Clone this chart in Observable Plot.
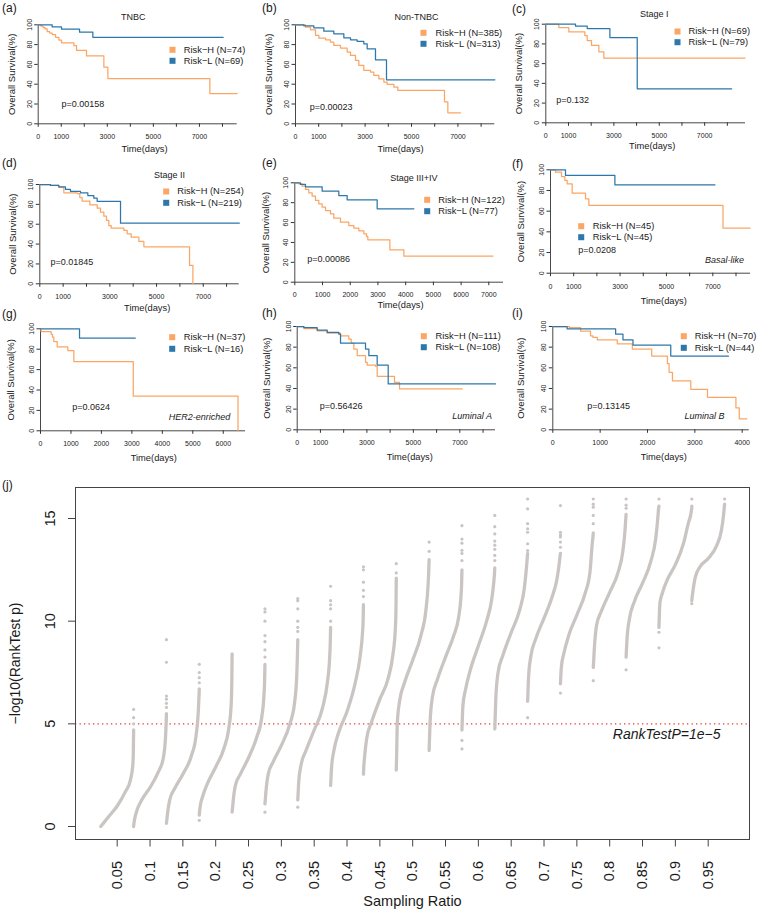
<!DOCTYPE html>
<html><head><meta charset="utf-8">
<script src="https://cdn.jsdelivr.net/npm/d3@7"></script>
<script src="https://cdn.jsdelivr.net/npm/@observablehq/plot@0.6"></script>
<style>
body{margin:0;background:#fff;font-family:"Liberation Sans",Arial,sans-serif;}
#root{position:relative;width:764px;height:911px;overflow:hidden;background:#fff;}
.panel{position:absolute;}
.tag{position:absolute;font-size:12px;line-height:12px;color:#1a1a1a;white-space:nowrap;}
</style></head><body><div id="root"></div>
<script>
// ---------- Kaplan-Meier panels (a)-(i) ----------
const panelTags = ["(a)","(b)","(c)","(d)","(e)","(f)","(g)","(h)","(i)"];
const panelTitles = ["TNBC","Non-TNBC","Stage I","Stage II","Stage III+IV","","","",""];
const subtypeNames = ["","","","","","Basal-like","HER2-enriched","Luminal A","Luminal B"];
const nHigh = [74,385,69,254,122,45,37,111,70];
const nLow  = [69,313,79,219,77,45,16,108,44];
const pValues = ["0.00158","0.00023","0.132","0.01845","0.00086","0.0208","0.0624","0.56426","0.13145"];
const riskColors = ["#FBA664","#2D77AA"];
const survTicks = [0,20,40,60,80,100];
const ticks8000 = [0,1000,2000,3000,4000,5000,6000,7000,8000];
const labelsOdd = [0,1000,3000,5000,7000];
const ticks7000 = [0,1000,2000,3000,4000,5000,6000,7000];
const ticks6000 = [0,1000,2000,3000,4000,5000,6000];
const ticks4000 = [0,1000,2000,3000,4000];

// survival curves: [time (days), overall survival (%)]
const tnbcHigh = [[0,100],[120,98.6],[217,97.2],[300,95.8],[390,93],[500,91.6],[608,90.2],[752,87.4],[897,84.6],[1013,81.8],[1548,79],[1664,74.1],[2098,68.6],[2851,57.2],[3025,45.7],[7453,30.5],[8640,30.5]];
const tnbcLow = [[0,100],[608,97.8],[1013,95.6],[1795,92.5],[2373,87.3],[8031,87.3]];
const nonTnbcHigh = [[0,100],[431,97.6],[647,94.9],[862,89.2],[1006,86.5],[1293,84.8],[1509,82.5],[1652,79.1],[1940,76.4],[2227,72.4],[2371,69],[2586,64],[2730,58.9],[2945,53.9],[3233,52.2],[3376,48.8],[3592,45.5],[3808,42.1],[3951,39.7],[4239,37],[4411,33.7],[6422,22.2],[6566,11.1],[7112,11.1]];
const nonTnbcLow = [[0,100],[359,99],[790,97],[1221,93.6],[1652,90.9],[2083,86.9],[2371,84.8],[2658,83.2],[2945,80.8],[3089,75.8],[3448,64.6],[3922,44.4],[8592,44.4]];
const stage1High = [[0,100],[574,96.6],[1015,92.2],[1721,88.5],[1824,83.4],[2015,78.4],[2338,72],[2559,65.5],[8779,65.5]];
const stage1Low = [[0,100],[1309,98],[1824,95.6],[2824,86.5],[4029,34.5],[8191,34.5]];
const stage2High = [[0,100],[457,99],[814,97],[1029,91.6],[1600,90.9],[1714,86.9],[1814,83.2],[2143,79.5],[2457,76.2],[2600,72.1],[2743,68.1],[2857,63.8],[2957,58.7],[3057,56],[3600,53.7],[3743,50.3],[3914,47],[4243,42.6],[4457,37.2],[6414,18.5],[6557,0]];
const stage2Low = [[0,100],[457,99],[814,97.7],[1100,95],[1314,93],[1743,91.6],[2057,88.9],[2314,86.2],[2457,82.9],[3457,61.1],[8543,61.1]];
const stage34High = [[0,100],[144,99],[265,96.6],[385,93.3],[505,89.9],[626,86.6],[746,82.2],[866,78.9],[987,75.5],[1107,72.1],[1288,68.8],[1408,64.4],[1649,60.4],[1949,57],[2130,54.4],[2310,51.7],[2491,48.7],[2587,46],[2635,42.6],[3430,32.6],[3935,26.2],[7148,26.2]];
const stage34Low = [[0,100],[205,98.3],[385,96],[987,91.6],[1588,87.2],[1889,82.9],[2972,73.8],[4296,73.8]];
const basalHigh = [[0,100],[216,97.7],[475,93.5],[619,89.7],[719,86.5],[935,77.4],[1511,71.9],[1655,65.5],[7439,43.5],[8604,43.5]];
const basalLow = [[0,100],[647,94.5],[2777,85.5],[7094,85.5]];
const her2High = [[0,100],[20,97.3],[350,94.6],[394,91.9],[438,87.4],[548,82.2],[898,78.6],[1095,67.8],[3045,33.9],[6484,0]];
const her2Low = [[0,100],[1281,90.8],[3110,90.8]];
const lumAHigh = [[0,100],[287,98],[861,95.8],[1291,93.6],[1865,91],[2224,87.8],[2324,83.9],[2439,78.1],[2582,71.7],[2941,65.3],[3013,62.7],[3372,61.4],[3443,51.8],[4189,46],[4405,39.5],[7102,39.5]];
const lumALow = [[0,100],[287,99],[861,96.5],[1291,94.2],[1793,92.6],[1865,83.9],[2941,78.1],[3085,71.7],[3443,62.7],[3917,44.4],[8537,44.4]];
const lumBHigh = [[0,100],[353,99],[586,95.5],[797,91],[847,89.4],[939,87.1],[1362,83.3],[1680,78.1],[2089,71.4],[2421,64],[2456,55.6],[2527,47.3],[2915,39.2],[3267,31.5],[3867,21.2],[3938,10.6],[4100,10.6]];
const lumBLow = [[0,100],[303,97.7],[1327,92.6],[1482,87.1],[1694,82],[2491,71.4],[3712,71.4]];
const highCurves = [tnbcHigh,nonTnbcHigh,stage1High,stage2High,stage34High,basalHigh,her2High,lumAHigh,lumBHigh];
const lowCurves  = [tnbcLow,nonTnbcLow,stage1Low,stage2Low,stage34Low,basalLow,her2Low,lumALow,lumBLow];
const xTickSets  = [ticks8000,ticks8000,ticks8000,ticks8000,ticks7000,ticks8000,ticks6000,ticks8000,ticks4000];
const xLabelSets = [labelsOdd,labelsOdd,labelsOdd,labelsOdd,ticks7000,labelsOdd,ticks6000,labelsOdd,ticks4000];
const xMaxDays   = [8640,8590,8800,8540,7530,8625,6730,8536,4150];

// ---------- Robustness panel (j) ----------
const ratios = [0.05,0.1,0.15,0.2,0.25,0.3,0.35,0.4,0.45,0.5,0.55,0.6,0.65,0.7,0.75,0.8,0.85,0.9,0.95];
const quantileFractions = [0,0.01,0.03,0.1,0.25,0.5,0.75,0.9,0.97,0.99,1];
const quantileValues = [
  [0,0.02,0.06,0.2,0.5,1.0,1.7,2.25,2.9,3.5,4.7],
  [0,0.15,0.35,0.78,1.3,1.9,2.65,3.3,4.3,5.0,5.5],
  [0.15,0.3,0.6,1.3,1.85,2.55,3.4,4.4,5.6,6.3,6.7],
  [0.55,0.75,1.0,1.45,2.1,2.9,3.8,4.8,5.9,7.0,8.4],
  [0.7,0.85,1.2,2.0,2.55,3.35,4.35,5.3,6.4,7.1,7.9],
  [1.1,1.3,1.7,2.55,3.15,3.95,4.95,6.0,7.4,8.4,9.1],
  [1.3,1.6,2.2,3.0,3.7,4.7,5.75,7.0,8.2,9.0,9.7],
  [2.0,2.3,2.9,3.7,4.6,5.6,7.0,8.3,9.4,10.0,10.8],
  [2.55,2.9,3.3,4.3,5.1,6.2,7.2,8.4,9.6,10.5,12.1],
  [2.75,3.4,5.0,6.1,7.0,8.1,9.3,10.5,11.8,12.5,13.0],
  [3.7,4.2,5.1,6.3,7.15,8.25,9.3,10.2,11.2,11.8,12.5],
  [4.7,5.2,5.9,6.6,7.6,8.8,10.0,11.0,11.9,12.3,12.6],
  [4.75,5.2,6.2,7.5,8.35,9.45,10.5,11.6,12.7,13.1,13.3],
  [6.1,6.5,7.3,8.3,9.15,10.15,11.2,12.1,12.9,13.2,13.3],
  [6.95,7.3,7.8,8.4,9.3,10.3,11.35,12.4,13.8,14.1,14.3],
  [7.75,8.0,8.6,9.8,10.5,11.4,12.35,13.4,14.5,15.0,15.2],
  [8.25,8.6,9.2,10.1,10.95,11.85,12.9,14.0,15.1,15.5,15.6],
  [9.7,10.2,10.9,11.35,12.0,12.75,13.8,14.8,15.2,15.4,15.5],
  [11.0,11.15,11.4,12.1,12.65,13.05,13.65,14.4,15.2,15.55,15.7]
];
const upperOutliers = [
  [5.0,5.3,5.7],[5.8,6.0,6.2,6.35,8.0,9.1],[7.0,7.25,7.5,7.9],[],[8.25,8.6,9.0,9.3,10.0,10.45,10.6],
  [9.5,9.7,10.0,10.6,11.0,11.1],[10.0,10.6,10.8,11.0,11.7],[11.2,11.5,11.9,12.5,12.65],[12.35,12.8],[13.4,13.85],
  [12.95,13.3,13.45,13.8,14.0,14.65],[12.95,13.2,13.5,13.7,13.9,14.25,14.6,15.15],[13.44,13.77,14.33,14.5,14.75,15.47,15.95],
  [13.6,13.85,14.1,14.2,14.33,15.63],[14.75,15.15,15.55,15.7,15.95],[15.5,15.65,15.95],[15.95],[15.6,15.95],[15.95]
];
const lowerOutliers = [[],[],[],[0.3],[],[0.7],[0.94],[],[],[],[],[3.78,4.19],[],[5.3],[6.5],[7.1],[7.63],[8.7,9.46],[10.85]];
const logTicks = [0,5,10,15];
const thresholds = [{value: 5, label: "RankTestP=1e\u22125"}];

// ---------- layout (page pixels) ----------
const FONT = '"Liberation Sans", Arial, Helvetica, sans-serif';
const INK = "#1a1a1a";
const layouts = [
  {cell:[0,0,250,162],   frame:[37.7,236.7,24.3,123.3], title:[132.7,16.7], legend:[172,49.3,60.3,183.3],   p:[61,104],     sub:null,        xlab:[144,149],     ylabX:11,    tag:[2,2]},
  {cell:[250,0,255,162], frame:[295,494.3,24.3,123.3],  title:[416,16.7],   legend:[423,32.3,43.3,435],     p:[309.3,106.7],sub:null,        xlab:[400,148.7],   ylabX:268.3, tag:[262,2]},
  {cell:[505,0,259,162], frame:[545.3,745,23.7,122.3],  title:[653.7,14],   legend:[677,31,41.7,688],       p:[555.7,100],  sub:null,        xlab:[651.7,146],   ylabX:518.3, tag:[512,2.5]},
  {cell:[0,160,250,162], frame:[39.3,238.7,184,283.3],  title:[169,175],    legend:[165.7,191,202.3,176.7], p:[50,261.7],   sub:null,        xlab:[146.7,307.3], ylabX:12,    tag:[2,156.5]},
  {cell:[250,160,255,162],frame:[294.3,503,182.3,281.7],title:[413.3,177.3],legend:[426.7,199.3,210.7,437.7],p:[306.7,259], sub:null,        xlab:[400,305],     ylabX:265,   tag:[262,156.5]},
  {cell:[505,160,259,162],frame:[550,750,169.3,272.7],  title:null,         legend:[580.7,225.7,236.7,592.3],p:[577.7,249.3],sub:[724,260],   xlab:[663.3,301],   ylabX:520,   tag:[512,157.5], pad:7.5},
  {cell:[0,320,250,160], frame:[40,245,328.3,430.3],    title:null,         legend:[171.7,336.7,348.3,183.3],p:[71.7,406.7], sub:[199,416.7],  xlab:[153.3,457.3], ylabX:10,    tag:[2,307.5]},
  {cell:[250,320,255,160],frame:[296.7,495,326,429.3],  title:null,         legend:[423.3,335.7,346.7,435], p:[319.3,405.7],sub:[471.7,416],  xlab:[409.3,456.7], ylabX:266.7, tag:[262,306.5]},
  {cell:[505,320,259,160],frame:[552.3,748.8,326,429.3],title:null,         legend:[683.3,335.7,347.3,694.3],p:[586.7,406], sub:[704,415.7],  xlab:[663.3,456.7], ylabX:520,   tag:[512,306.5]}
];

const root = document.getElementById("root");
function place(node, left, top) {
  const d = document.createElement("div");
  d.className = "panel"; d.style.left = left + "px"; d.style.top = top + "px";
  d.appendChild(node); root.appendChild(d);
}
function addTag(text, x, y) {
  const d = document.createElement("div");
  d.className = "tag"; d.textContent = text; d.style.left = x + "px"; d.style.top = y + "px";
  root.appendChild(d);
}

function kmChart(i) {
  const lay = layouts[i];
  const [cx, cy, cw, ch] = lay.cell;
  const [L, R, T, B] = lay.frame;
  const at = (px, py, anchor = "middle") => ({frameAnchor: "top-left", dx: px - L, dy: py - T, textAnchor: anchor, lineAnchor: "middle"});
  const rows = [
    {name: `Risk\u2212H (N=${nHigh[i]})`, curve: highCurves[i], color: riskColors[0]},
    {name: `Risk\u2212L (N=${nLow[i]})`, curve: lowCurves[i], color: riskColors[1]}
  ];
  const xmax = xMaxDays[i];
  const labels = xLabelSets[i];
  const marks = [
    Plot.ruleX([0], {y1: survTicks[0], y2: survTicks[survTicks.length - 1], stroke: "#333", strokeWidth: 0.9}),
    Plot.ruleY([0], {x1: 0, x2: xmax, stroke: "#333", strokeWidth: 0.9}),
    Plot.axisX({ticks: xTickSets[i], tickFormat: d => labels.includes(d) ? String(d) : "", tickSize: 3.5, tickPadding: lay.pad || 6.5, fontSize: 7, label: null, stroke: "#333", fill: INK}),
    Plot.axisY({ticks: survTicks, tickFormat: () => "", tickSize: 3.5, label: null, stroke: "#333"}),
    Plot.text(survTicks, {y: d => d, text: d => String(d), frameAnchor: "left", dx: -8.7, rotate: -90, textAnchor: "middle", lineAnchor: "middle", fontSize: 7, fill: INK})
  ];
  rows.forEach(row => {
    marks.push(Plot.line(row.curve, {x: d => d[0], y: d => d[1], curve: "step-after", stroke: row.color, strokeWidth: 1.25}));
  });
  rows.forEach((row, k) => {
    marks.push(Plot.dot([row.name], {frameAnchor: "top-left", dx: lay.legend[0] - L, dy: lay.legend[1 + k] - T, symbol: "square", r: 3.4, fill: row.color, stroke: "none"}));
    marks.push(Plot.text([row.name], {...at(lay.legend[3], lay.legend[1 + k], "start"), fontSize: 9.3, fill: INK}));
  });
  if (panelTitles[i]) marks.push(Plot.text([panelTitles[i]], {...at(lay.title[0], lay.title[1]), fontSize: 9, fill: INK}));
  if (subtypeNames[i]) marks.push(Plot.text([subtypeNames[i]], {...at(lay.sub[0], lay.sub[1]), fontSize: 9, fontStyle: "italic", fill: INK}));
  marks.push(Plot.text(["p=" + pValues[i]], {...at(lay.p[0], lay.p[1], "start"), fontSize: 9, fill: INK}));
  marks.push(Plot.text(["Time(days)"], {...at(lay.xlab[0], lay.xlab[1]), fontSize: 9.3, fill: INK}));
  marks.push(Plot.text(["Overall Survival(%)"], {frameAnchor: "left", dx: lay.ylabX - L, rotate: -90, textAnchor: "middle", lineAnchor: "middle", fontSize: 9.5, fill: INK}));

  const chart = Plot.plot({
    width: cw, height: ch,
    marginLeft: L - cx, marginRight: cx + cw - R, marginTop: T - cy, marginBottom: cy + ch - B,
    style: {fontFamily: FONT, fontSize: "7px", background: "transparent", overflow: "visible"},
    x: {domain: [0, xmax]},
    y: {domain: [survTicks[0], survTicks[survTicks.length - 1]]},
    marks
  });
  place(chart, cx, cy);
  addTag(panelTags[i], lay.tag[0], lay.tag[1]);
}
for (let i = 0; i < 9; i++) kmChart(i);

// ---------- panel (j) ----------
const bandWidth = ratios[1] - ratios[0];
const curvePts = [];
ratios.forEach((r, i) => quantileFractions.forEach((f, k) => {
  curvePts.push({group: r, x: r - bandWidth / 2 + f * bandWidth, y: quantileValues[i][k]});
}));
const outPts = [];
ratios.forEach((r, i) => {
  upperOutliers[i].forEach(v => outPts.push({x: r + bandWidth / 2, y: v}));
  lowerOutliers[i].forEach(v => outPts.push({x: r - bandWidth / 2, y: v}));
});
const GRAY = "#cac5c3";
const jTop = 470;
const jChart = Plot.plot({
  width: 764, height: 441,
  marginLeft: 75, marginRight: 15, marginTop: 17, marginBottom: 72,
  style: {fontFamily: FONT, fontSize: "14px", background: "transparent", overflow: "visible"},
  x: {domain: [-0.0135, 1.0129]},
  y: {domain: [-0.633, 16.51]},
  marks: [
    Plot.ruleY(thresholds, {y: "value", stroke: "#e23a2c", strokeWidth: 1.3, strokeDasharray: "1.3,3.2"}),
    Plot.line(curvePts, {x: "x", y: "y", z: "group", stroke: GRAY, strokeWidth: 3.3, curve: "monotone-x", strokeLinecap: "round", strokeLinejoin: "round"}),
    Plot.dot(outPts, {x: "x", y: "y", r: 1.6, fill: GRAY, stroke: "none"}),
    Plot.text(thresholds, {y: "value", text: "label", frameAnchor: "right", dx: -29, dy: 11, textAnchor: "end", lineAnchor: "middle", fontStyle: "italic", fontSize: 14, fill: INK}),
    Plot.frame({stroke: "#444", strokeWidth: 1}),
    Plot.axisX({ticks: ratios, tickFormat: d => String(d), tickRotate: -90, tickSize: 7.5, tickPadding: 14, fontSize: 14.5, label: null, stroke: "#444", fill: INK}),
    Plot.axisY({ticks: logTicks, tickFormat: () => "", tickSize: 7, label: null, stroke: "#444"}),
    Plot.text(logTicks, {y: d => d, text: d => String(d), frameAnchor: "left", dx: -25, rotate: -90, textAnchor: "middle", lineAnchor: "middle", fontSize: 14.5, fill: INK}),
    Plot.text(["\u2212log10(RankTest p)"], {frameAnchor: "left", dx: -60, rotate: -90, textAnchor: "middle", lineAnchor: "middle", fontSize: 14, fill: INK}),
    Plot.text(["Sampling Ratio"], {frameAnchor: "bottom", dy: 61.7, textAnchor: "middle", lineAnchor: "middle", fontSize: 14.5, fill: INK})
  ]
});
place(jChart, 0, jTop);
addTag("(j)", 2, 479);
</script></body></html>
